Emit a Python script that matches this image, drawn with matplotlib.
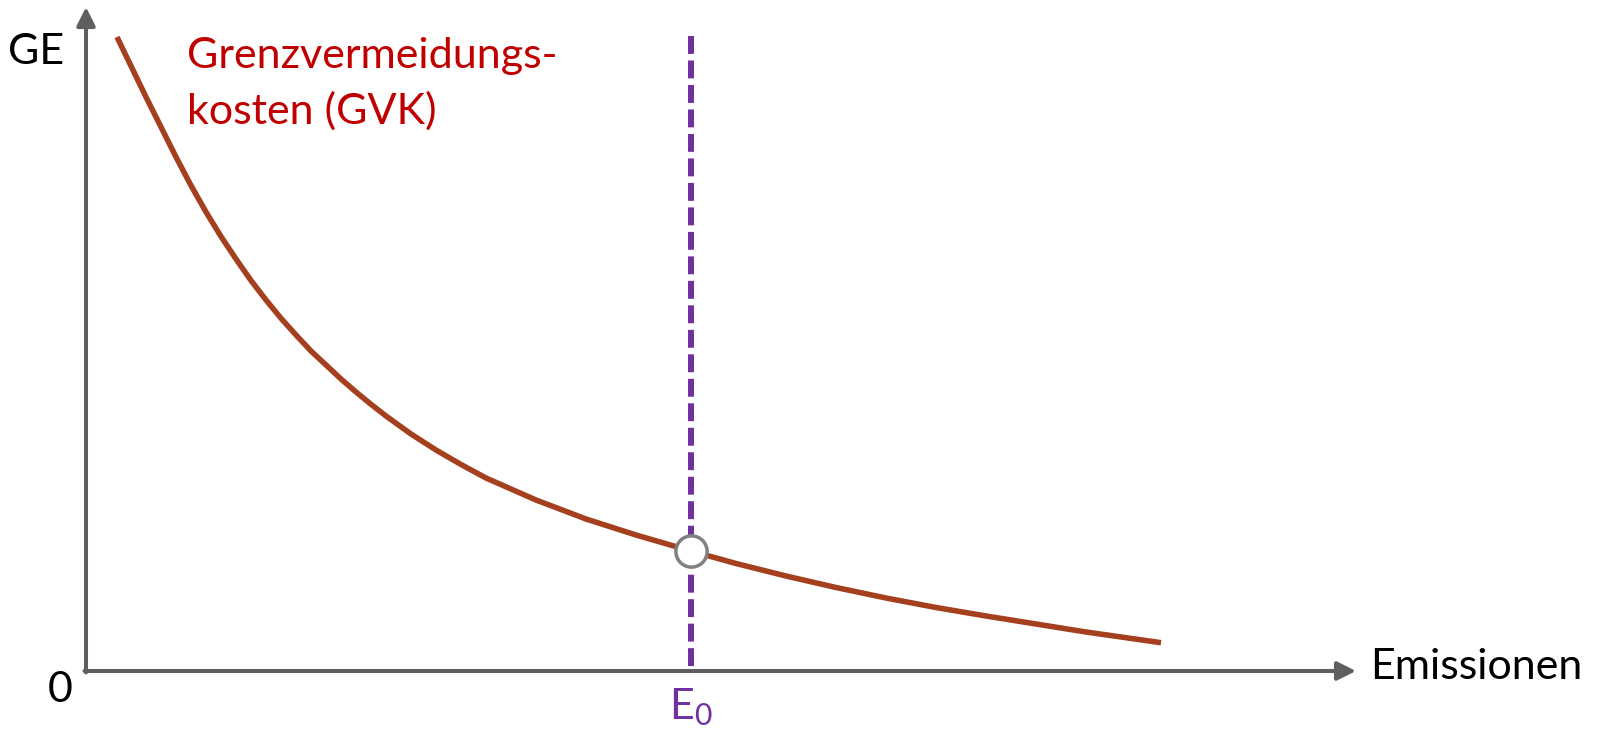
import matplotlib
matplotlib.use("Agg")
import matplotlib.pyplot as plt

plt.rcParams['font.family'] = ['Lato', 'DejaVu Sans']
plt.rcParams['mathtext.fontset'] = 'custom'
plt.rcParams['mathtext.rm'] = 'Lato'
plt.rcParams['mathtext.default'] = 'regular'

# Data (abstract units: Emissionen on x, GE on y)
emissionen = [0.31, 0.45, 0.60, 0.75, 0.90, 1.05, 1.20, 1.35, 1.50, 1.65,
              1.80, 1.95, 2.10, 2.25, 2.40, 2.55, 2.70, 2.85, 3.00, 3.25,
              3.50, 3.75, 4.00, 4.50, 5.00, 5.50, 6.05, 6.50, 7.00, 7.50,
              8.00, 8.50, 9.00, 9.50, 10.00, 10.40, 10.75]
gvk = [6.34, 6.05, 5.74, 5.44, 5.14, 4.855, 4.59, 4.345, 4.12, 3.905,
       3.71, 3.527, 3.36, 3.20, 3.06, 2.92, 2.79, 2.667, 2.55, 2.37,
       2.21, 2.065, 1.93, 1.71, 1.52, 1.36, 1.20, 1.075, 0.95, 0.835,
       0.73, 0.635, 0.55, 0.47, 0.39, 0.333, 0.283]
e0 = 6.05
ge_e0 = 1.20
dash_top = 6.35
x_axis_end = 12.70
y_axis_end = 6.64

curve_label = "Grenzvermeidungs-\nkosten (GVK)"
x_label = "Emissionen"
y_label = "GE"
origin_label = "0"
e0_label = "E$_{0}$"

axis_col = "#5f5f5f"
curve_col = "#a5401f"
label_col = "#c00000"
e0_col = "#7030a0"

fig = plt.figure(figsize=(16.06, 7.29), dpi=100)
ax = fig.add_axes([0, 0, 1, 1])
ax.set_xlim(-0.86, 15.20)
ax.set_ylim(-0.58, 6.71)
ax.axis('off')

# axes arrows
arrow_kw = dict(arrowstyle='-|>', color=axis_col, lw=2.9, mutation_scale=28,
                shrinkA=0, shrinkB=0)
ax.annotate('', xy=(x_axis_end, 0), xytext=(-0.015, 0), arrowprops=arrow_kw)
ax.annotate('', xy=(0, y_axis_end), xytext=(0, -0.015), arrowprops=arrow_kw)

# dashed E0 line
ax.plot([e0, e0], [dash_top, 0], color=e0_col, lw=4.3, dashes=(3.0, 1.1),
        solid_capstyle='butt', dash_capstyle='butt', zorder=3)

# GVK curve
ax.plot(emissionen, gvk, color=curve_col, lw=4.0, solid_capstyle='butt',
        solid_joinstyle='round', zorder=4)

# intersection marker
ax.plot([e0], [ge_e0], marker='o', markersize=22.5, markerfacecolor='white',
        markeredgecolor='#808080', markeredgewidth=2.5, zorder=5)

fs = 31
ax.text(-0.22, 6.19, y_label, fontsize=fs, color='black', ha='right', va='center')
ax.text(-0.13, -0.19, origin_label, fontsize=fs, color='black', ha='right', va='center')
ax.text(12.84, 0.04, x_label, fontsize=fs, color='black', ha='left', va='center')
ax.text(1.01, 6.34, curve_label, fontsize=fs, color=label_col, ha='left', va='top',
        linespacing=1.5)
ax.text(e0, -0.15, e0_label, fontsize=fs, color=e0_col, ha='center', va='top')

fig.savefig('out.png', dpi=100)
